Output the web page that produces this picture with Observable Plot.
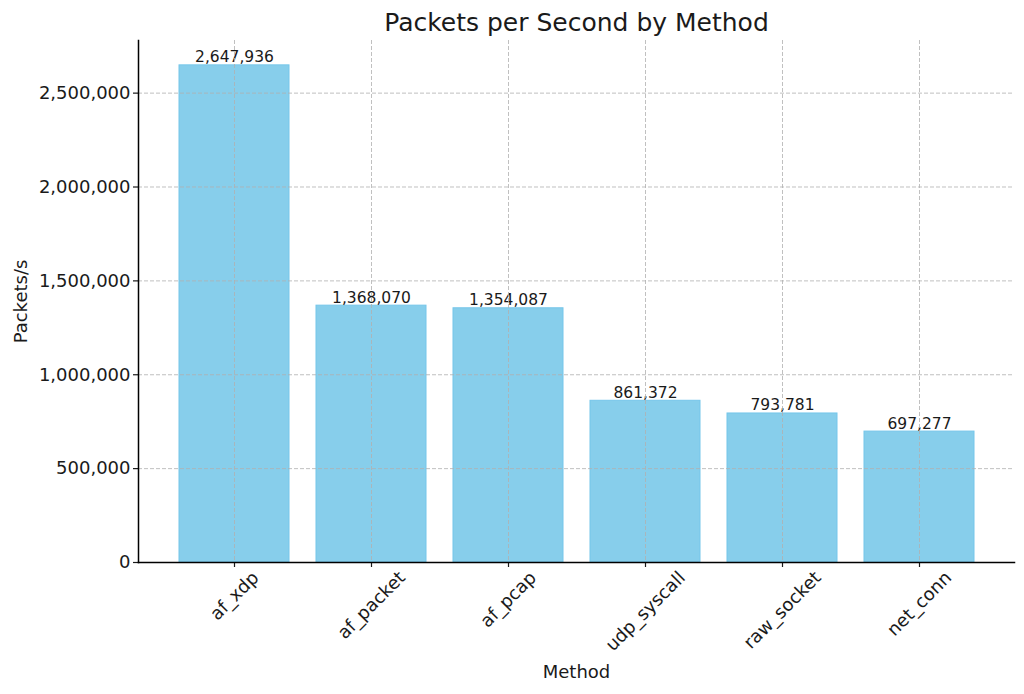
<!DOCTYPE html>
<html><head><meta charset="utf-8">
<script src="https://cdn.jsdelivr.net/npm/d3@7"></script>
<script src="https://cdn.jsdelivr.net/npm/@observablehq/plot@0.6"></script>
<style>body{margin:0;background:#fff} svg{font-family:"DejaVu Sans",sans-serif}</style>
</head><body><div id="chart"></div>
<script>
const methods = ["af_xdp", "af_packet", "af_pcap", "udp_syscall", "raw_socket", "net_conn"];
const packetsPerSecond = [2647936, 1368070, 1354087, 861372, 793781, 697277];
const yTicks = [0, 500000, 1000000, 1500000, 2000000, 2500000];
const title = "Packets per Second by Method";
const xLabel = "Method";
const yLabel = "Packets/s";

const data = methods.map((m, i) => ({method: m, pps: packetsPerSecond[i]}));
const fmt = d3.format(",");
const gridStyle = {stroke: "#b0b0b0", strokeOpacity: 0.8, strokeWidth: 1, strokeDasharray: "4,2"};

const plot = Plot.plot({
  width: 1024,
  height: 694,
  marginTop: 40,
  marginBottom: 132,
  marginLeft: 138,
  marginRight: 10,
  style: {fontFamily: "DejaVu Sans, sans-serif", fontSize: "18px", color: "#1a1a1a", background: "white"},
  x: {type: "band", domain: methods, paddingInner: 0.2, paddingOuter: 0.285},
  y: {domain: [0, d3.max(packetsPerSecond) * 1.05]},
  marks: [
    Plot.barY(data, {x: "method", y: "pps", fill: "#87CEEB", stroke: "#75c6ea", strokeWidth: 1}),
    Plot.text(data, {x: "method", y: "pps", text: d => fmt(d.pps), lineAnchor: "bottom", dy: -3, fontSize: 15.5, fill: "#1a1a1a"}),
    Plot.gridY(yTicks, gridStyle),
    Plot.gridX(methods, gridStyle),
    Plot.axisY({ticks: yTicks, tickSize: 5, tickPadding: 3, tickFormat: fmt, fontSize: 18, label: null, strokeWidth: 1.2}),
    Plot.axisX({tickSize: 5, tickFormat: () => "", label: null, strokeWidth: 1.2}),
    Plot.frame({anchor: "left", stroke: "#000", strokeWidth: 1.5}),
    Plot.frame({anchor: "bottom", stroke: "#000", strokeWidth: 1.5}),
    Plot.text(methods, {x: d => d, frameAnchor: "bottom", rotate: -45, textAnchor: "middle", lineAnchor: "middle", fontSize: 18, fill: "#1a1a1a", ariaDescription: "x-tick-labels"}),
    Plot.text([title], {frameAnchor: "top", textAnchor: "middle", lineAnchor: "middle", dy: -18, fontSize: 25, fill: "#1a1a1a"}),
    Plot.text([xLabel], {frameAnchor: "bottom", textAnchor: "middle", lineAnchor: "middle", dy: 110, fontSize: 18, fill: "#1a1a1a"}),
    Plot.text([yLabel], {frameAnchor: "left", textAnchor: "middle", lineAnchor: "middle", dx: -117, rotate: -90, fontSize: 18, fill: "#1a1a1a"})
  ]
});

document.getElementById("chart").append(plot);
const svg = plot.tagName.toLowerCase() === "svg" ? plot : plot.querySelector("svg");
d3.select(svg).selectAll('g[aria-description="x-tick-labels"] text').each(function () {
  const L = this.getComputedTextLength();
  const h = 18 * 0.9;
  const off = 6.5 + (L + h) * Math.SQRT1_2 / 2;
  const t = this.getAttribute("transform") || "";
  this.setAttribute("transform", `translate(0,${off}) ` + t);
});
</script>
</body></html>
